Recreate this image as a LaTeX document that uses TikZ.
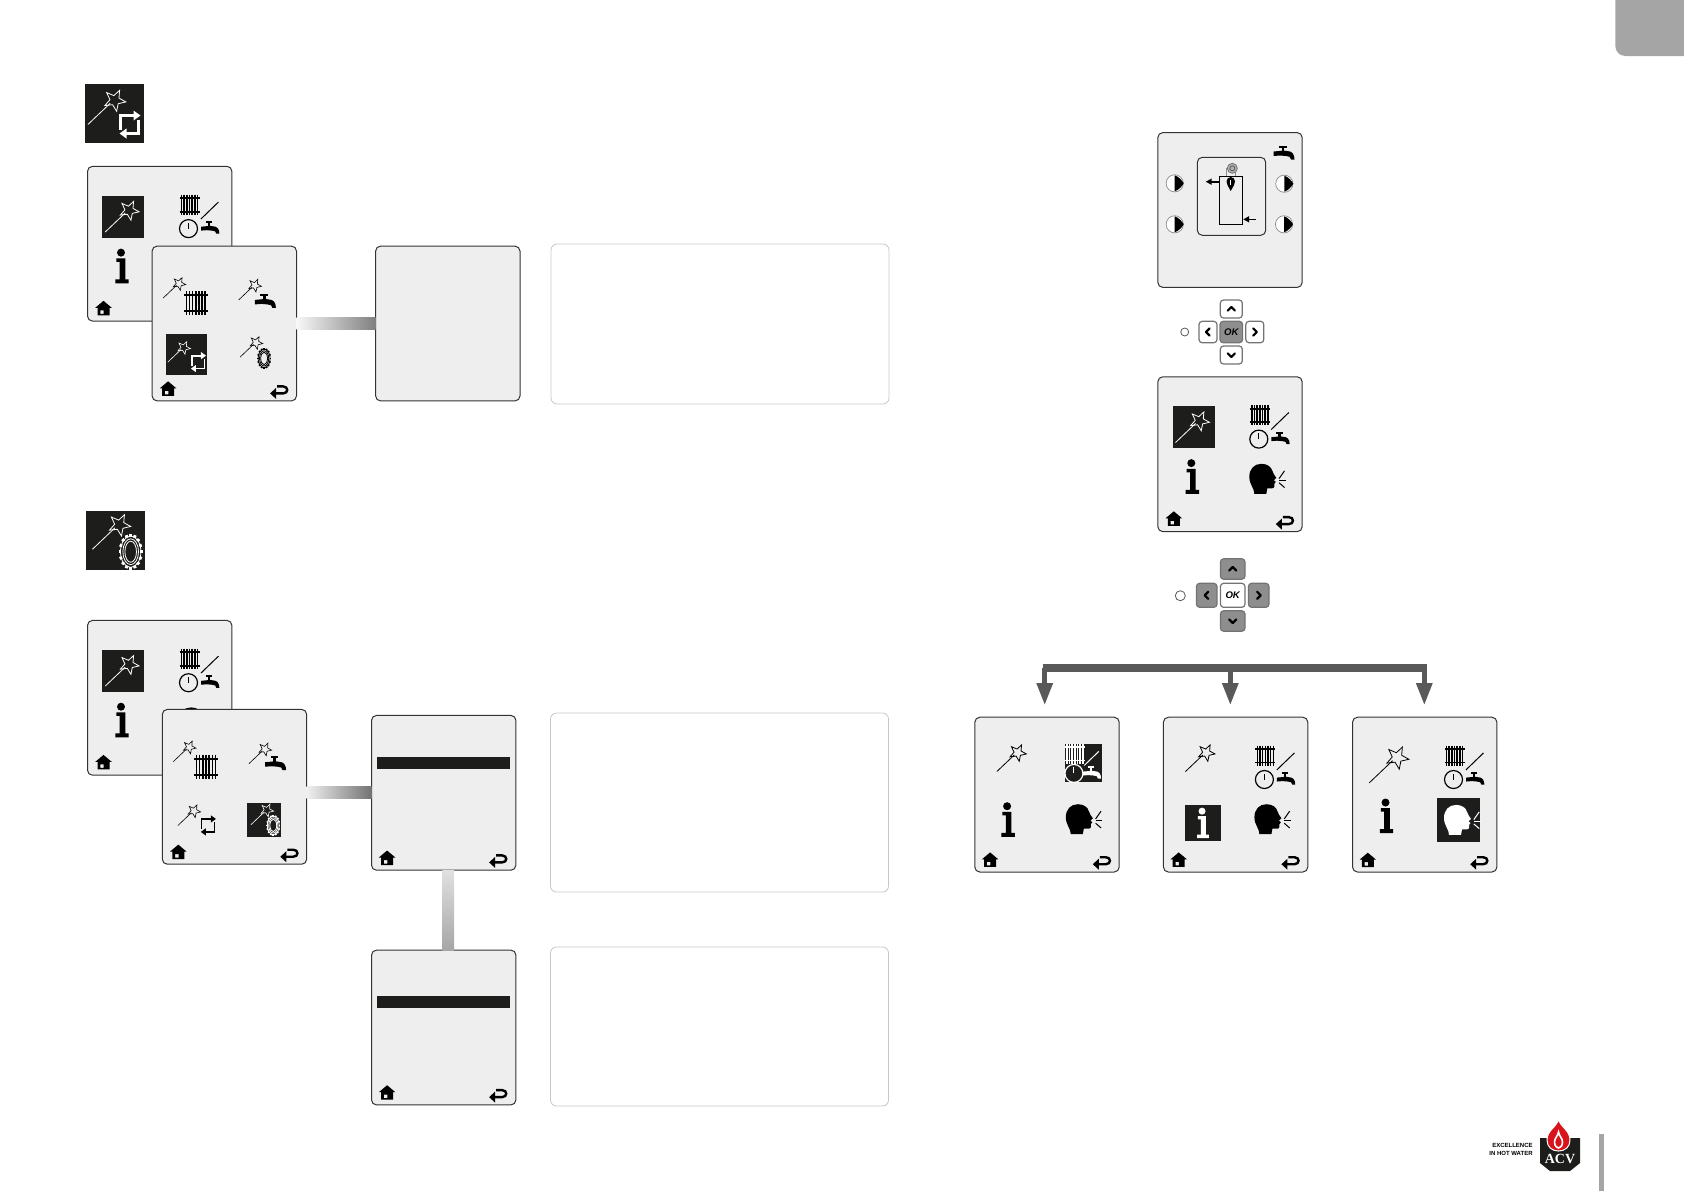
\documentclass[tikz,border=0pt]{standalone}
\usepackage{fontspec}
\setmainfont{Liberation Sans}
\newfontfamily\logoserif{Liberation Serif}
\usetikzlibrary{shapes,arrows.meta,positioning}
\definecolor{inkdark}{HTML}{1D1D1B}
\definecolor{panelgrey}{HTML}{EEEEEE}
\definecolor{tabgrey}{HTML}{A5A5A5}
\definecolor{busgrey}{HTML}{595959}
\definecolor{keygrey}{HTML}{8E8E8E}
\definecolor{acvred}{HTML}{D8131B}
\tikzset{
  panel/.style={draw=black!80,fill=panelgrey,line width=.5pt,rounded corners=2.5pt,inner sep=0pt,outer sep=0pt,minimum width=72.2pt,minimum height=77.4pt},
  notebox/.style={draw=black!22,fill=white,line width=.4pt,rounded corners=3pt,inner sep=0pt,outer sep=0pt,minimum width=169pt},
  selbar/.style={fill=inkdark,inner sep=0pt,minimum width=66.5pt,minimum height=5.9pt},
  keybtn/.style={draw=black!55,fill=white,line width=.6pt,rounded corners=1.6pt,inner sep=0pt,outer sep=0pt,font=\fontsize{4.8pt}{5pt}\selectfont\bfseries\itshape},
  keyon/.style={keybtn,fill=keygrey},
  led/.style={draw=black!65,fill=white,circle,line width=.4pt,inner sep=0pt},
  busmain/.style={draw=busgrey,line width=4pt},
  busdrop/.style={draw=busgrey,line width=2.4pt,shorten >=6pt,-{Triangle[length=11pt,width=7.6pt]}},
  pipe/.style={draw=black,line width=.8pt,-{Triangle[length=3pt,width=3pt]}},
  pics/tile/.style={code={\fill[inkdark] (-#1,-#1) rectangle (#1,#1);}},
  pics/wandic/.style={code={
    \draw (-18,15.3) -- (2,-3.7);
    \draw[shift={(6,-6.3)},rotate=10] (90:10) -- (126:4.3) -- (162:10) -- (198:4.3) -- (234:10) -- (270:4.3) -- (306:10) -- (342:4.3) -- (18:10) -- (54:4.3) -- cycle;
  }},
  pics/radic/.style={code={
    \foreach \x in {-8,-5.3,-2.7,0,2.7,5.3,8}
      \draw[line width=.75pt] (\x,-10) -- (\x,10);
    \draw[line width=.9pt] (-10,-6.5) -- (10,-6.5);
    \draw[line width=.9pt] (-10,7) -- (10,7);
  }},
  pics/tapic/.style={code={
    \fill (-10.5,-1.5) -- (0,-2.5) -- (3,-2) .. controls (8,-2) and (10.5,1) .. (10.5,6.5) -- (7,6.5) .. controls (7,4) and (5,3) .. (2,3) -- (-4,2.5) -- (-10.5,3) -- cycle;
    \draw[line width=1.3pt] (-1.2,-6) -- (-1.2,0);
    \draw[line width=1pt] (-5,-6.5) -- (2.5,-6.5);
  }},
  pics/clockic/.style={code={
    \draw[line width=.6pt] (0,0) circle (9);
    \draw[line width=.5pt] (0,0) -- (0,-6);
  }},
  pics/comboic/.style={code={
    \pic at (-9.7,-11.7) {radic};
    \draw[line width=.5pt] (1.7,2.7) -- (19.3,-14.3);
    \pic at (-10.7,12.3) {clockic};
    \pic[scale=.87] at (11,11.7) {tapic};
  }},
  pics/swapic/.style={code={
    \draw (-9,5) -- (-9,-9) -- (5,-9);
    \fill (11,-9) -- (4,-14) -- (4,-4) -- cycle;
    \draw (9,-5) -- (9,9) -- (-4,9);
    \fill (-10,9) -- (-3,4) -- (-3,14) -- cycle;
  }},
  pics/gearic/.default=.9pt,
  pics/gearic/.style={code={
    \foreach \a in {0,22.5,...,337.5}
      \draw[line width=#1] (\a:5.5 and 8.8) -- (\a:7 and 10.5);
    \draw[line width=.4pt] (0,0) ellipse (6 and 9.2);
    \draw[line width=.4pt] (0,0) ellipse (4.6 and 7.6);
    \draw[line width=.4pt] (0,0) ellipse (3.4 and 6.2);
  }},
  pics/infoic/.style={code={
    \fill (-1,-13.7) circle (4);
    \fill (-5.7,-8) -- (3.3,-8) -- (3.3,13) -- (6.7,13) -- (6.7,17) -- (-6.7,17) -- (-6.7,13) -- (-2.3,13) -- (-2.3,-4.5) -- (-5.7,-4.5) -- cycle;
  }},
  pics/headic/.style={code={
    \fill (-12,15) .. controls (-12,9) and (-17,6) .. (-17,-2) .. controls (-17,-10) and (-12,-15) .. (-5,-15) .. controls (1,-15) and (5,-12) .. (6,-8) .. controls (6.5,-5) and (9,-3) .. (10,-1) -- (7.5,1.5) -- (9.5,3) -- (8,5) -- (8,8) .. controls (7.5,10) and (4,9.5) .. (1,9.5) -- (0,15) -- cycle;
    \draw[line width=.5pt] (12.8,-.3) -- (18.2,-8);
    \draw[line width=.5pt] (12.8,1.5) -- (19.5,1.5);
    \draw[line width=.5pt] (12.8,4) -- (18.2,8.7);
  }},
  pics/homeic/.style={code={
    \fill[even odd rule] (-8.3,-.5) -- (0,-7.5) -- (8.3,-.5) -- (6,-.5) -- (6,7) -- (-6,7) -- (-6,-.5) -- cycle (-3.2,2) rectangle (.2,5.5);
  }},
  pics/backic/.style={code={
    \draw[line width=1.2pt] (-2,-5) -- (4,-5) .. controls (9.5,-5) and (9.5,2) .. (4,2) -- (-4,2);
    \fill (-9,2) -- (-3,-3.5) -- (-3,7.5) -- cycle;
  }},
  pics/pumpic/.style={code={
    \draw[black!45,fill=white,line width=.35pt] (0,0) circle (8.6);
    \fill (0,-8) .. controls (4,-7) and (8,-2) .. (9,0) .. controls (8,2) and (4,7) .. (0,8) -- cycle;
  }},
  pics/chev/.style={code={
    \draw[line width=1.1pt,line cap=round,line join=round] (-3.6,1.6) -- (0,-2) -- (3.6,1.6);
  }},
  pics/mainmenu/.style={code={
    \pic at (35.7,50.3) {tile=21};
    \pic[color=white] at (35.7,50.4) {wandic};
    \pic at (111.7,50) {comboic};
    \pic at (34.5,100) {infoic};
    \pic at (108.5,102) {headic};
    \pic at (16,142) {homeic};
    \pic at (127,145.3) {backic};
  }}
}
\begin{document}
\begin{tikzpicture}[x=.5pt,y=-.5pt]
\useasboundingbox (0,0) rectangle (1684,1191);
% corner tab and page mark
\fill[tabgrey,rounded corners=5pt] (1730,-30) -- (1615.3,-30) -- (1615.3,56) -- (1730,56) -- cycle;
\fill[tabgrey] (1599,1134) rectangle (1604,1191);

% first block
\pic at (114.5,113.5) {tile=29.5};
\pic[color=white,scale=1.12] at (108,107.4) {wandic};
\pic[color=white,line width=1.3pt] at (129.5,124.5) {swapic};

\node[panel] (a1) at (159.7,243.7) {};
\pic at (a1.north west) {mainmenu};
\node[panel] (a2) at (224.3,323.5) {};
\node[panel] (a3) at (447.8,323.5) {};
\node[notebox,minimum height=80pt] (n1) at (720,324) {};
\shade[left color=black!3,right color=black!50] ([yshift=3pt]a2.east) rectangle ([yshift=-3pt]a3.west);
\begin{scope}[shift={(a2.north west)}]
\pic[scale=.67,line width=.3pt] at (23,41.8) {wandic};
\pic[scale=1.18] at (43.7,56.7) {radic};
\pic[scale=.67,line width=.3pt] at (98.7,43.5) {wandic};
\pic at (113.3,55.3) {tapic};
\pic at (34.7,108.7) {tile=20.5};
\pic[color=white,scale=.67,line width=.3pt] at (27.7,105.8) {wandic};
\pic[color=white,scale=.72,line width=.9pt] at (46,116) {swapic};
\pic[scale=.67,line width=.3pt] at (100,100.8) {wandic};
\pic at (112,112.3) {gearic};
\pic at (16,142.7) {homeic};
\pic at (127,145.3) {backic};
\end{scope}

% second block
\pic at (115,540.5) {tile=29.5};
\pic[color=white,scale=1.13] at (112.7,532) {wandic};
\pic[color=white,scale=1.7] at (130.7,551.7) {gearic=1.5pt};

\node[panel] (b1) at (159.7,697.8) {};
\pic at (b1.north west) {mainmenu};
\node[panel] (b2) at (234.5,786.8) {};
\node[panel] (b3) at (443.7,792.8) {};
\node[panel] (b4) at (443.7,1027.5) {};
\node[notebox,minimum height=89.5pt] (n2) at (719.5,802.5) {};
\node[notebox,minimum height=79.5pt] (n3) at (719.5,1026.5) {};
\coordinate (b2r) at (b2.east|-b3.west);
\shade[left color=black!6,right color=black!55] ([yshift=3pt]b2r) rectangle ([yshift=-3pt]b3.west);
\shade[top color=black!12,bottom color=black!35] ([xshift=-.7pt]b3.south) rectangle ([xshift=5.2pt]b4.north);
\begin{scope}[shift={(b2.north west)}]
\pic[scale=.67,line width=.3pt] at (23,42) {wandic};
\pic[scale=1.18] at (43.7,57.3) {radic};
\pic[scale=.67,line width=.3pt] at (98.7,44) {wandic};
\pic at (113.3,54.3) {tapic};
\pic[scale=.67,line width=.3pt] at (27.7,105.8) {wandic};
\pic[scale=.72,line width=.9pt] at (45.7,116) {swapic};
\pic at (101.7,110.3) {tile=17};
\pic[color=white,scale=.67,line width=.3pt] at (100.7,105) {wandic};
\pic[color=white] at (111,116) {gearic};
\pic at (16,142.7) {homeic};
\pic at (127,145.3) {backic};
\end{scope}
\node[selbar] (b3bar) at (443.5,762.8) {};
\pic at ([shift={(15.6,142.6)}]b3.north west) {homeic};
\pic at ([shift={(126.6,145)}]b3.north west) {backic};
\node[selbar] (b4bar) at (443.5,1002) {};
\pic at ([shift={(15.6,142.6)}]b4.north west) {homeic};
\pic at ([shift={(126.6,145)}]b4.north west) {backic};

% boiler screen
\node[panel] (c1) at (1230,210) {};
\node[panel,minimum width=34.2pt,minimum height=39pt] (c1in) at (1231.5,196.3) {};
\node[draw=black,line width=.5pt,inner sep=0pt,minimum width=11.7pt,minimum height=24.2pt] (tank) at (1231,200.5) {};
\draw[black!45,line width=.3pt] (1226.3,176.3) -- (1226.3,168.3) -- (1235,168.3) -- (1235,176.3);
\draw[black!55,fill=black!30,line width=.4pt] (1232.3,168.3) circle (5);
\draw[black!65,line width=.4pt] (1232.3,168.3) circle (2.5);
\fill (1230.7,191) .. controls (1228,186) and (1226.5,184) .. (1226.5,181.5) .. controls (1226.5,179) and (1228.5,177) .. (1230.7,177) .. controls (1233,177) and (1235,179) .. (1235,181.5) .. controls (1235,184) and (1233.4,186) .. (1230.7,191) -- cycle;
\draw[white,line width=.35pt] (1230.7,180) -- (1230.7,185);
\coordinate (hotout) at (1205.7,181.7);
\coordinate (coldin) at (1256,219.3);
\draw[pipe] (hotout-|tank.west) -- (hotout);
\draw[pipe] (coldin) -- (coldin-|tank.east);
\pic at (1174.7,183.3) {pumpic};
\pic at (1174.7,224.3) {pumpic};
\pic at (1284.3,183.7) {pumpic};
\pic at (1284,224.3) {pumpic};
\pic at (1284,153) {tapic};

% first keypad
\node[keyon,minimum width=11.3pt,minimum height=10.7pt] (ok1) at (1231.3,332) {OK};
\node[keybtn,minimum width=11pt,minimum height=9pt] (up1) at (1231.3,309) {};
\node[keybtn,minimum width=11pt,minimum height=9pt] (dn1) at (1231.3,355) {};
\node[keybtn,minimum width=9pt,minimum height=10.7pt] (lf1) at (1208,332) {};
\node[keybtn,minimum width=9pt,minimum height=10.7pt] (rt1) at (1254.8,332) {};
\node[led,minimum size=4pt] (led1) at (1184.7,332) {};
\pic at (up1) {chev};
\pic[rotate=180] at (dn1) {chev};
\pic[rotate=90] at (lf1) {chev};
\pic[rotate=-90] at (rt1) {chev};

\node[panel] (c2) at (1230,454.2) {};
\pic at (c2.north west) {mainmenu};

% second keypad
\node[keybtn,minimum width=12.3pt,minimum height=12pt] (ok2) at (1232.7,595.3) {OK};
\node[keyon,minimum width=12.3pt,minimum height=10.2pt] (up2) at (1232.7,569) {};
\node[keyon,minimum width=12.3pt,minimum height=10.2pt] (dn2) at (1232.7,621) {};
\node[keyon,minimum width=10.3pt,minimum height=12pt] (lf2) at (1206.7,595.3) {};
\node[keyon,minimum width=10.3pt,minimum height=12pt] (rt2) at (1258.7,595.3) {};
\node[led,minimum size=5pt] (led2) at (1180.3,595.7) {};
\pic at (up2) {chev};
\pic[rotate=180] at (dn2) {chev};
\pic[rotate=90] at (lf2) {chev};
\pic[rotate=-90] at (rt2) {chev};

% three choices
\node[panel] (d1) at (1047,794.6) {};
\node[panel] (d2) at (1235.6,794.6) {};
\node[panel] (d3) at (1424.7,794.6) {};
\coordinate (busl) at (1044.7,668);
\coordinate (busm) at (1230.3,668);
\coordinate (busr) at (1424.3,668);
\draw[busdrop] (busl) -- (busl|-d1.north);
\draw[busdrop] (busm) -- (busm|-d2.north);
\draw[busdrop] (busr) -- (busr|-d3.north);
\draw[busmain] ([xshift=-1.1pt]busl) -- ([xshift=1.4pt]busr);

\begin{scope}[shift={(d1.north west)}]
\pic[scale=.87] at (37.7,41) {wandic};
\pic at (109,45.7) {tile=18.6};
\pic[color=white,scale=.83] at (108,46) {comboic};
\pic at (33.3,102.7) {infoic};
\pic at (108,102) {headic};
\pic at (15.3,142.7) {homeic};
\pic at (127,145) {backic};
\end{scope}
\begin{scope}[shift={(d2.north west)}]
\pic[scale=.87] at (37.7,41) {wandic};
\pic at (111.7,50) {comboic};
\pic at (39.7,105.7) {tile=18};
\pic[color=white,scale=.88] at (39.5,106) {infoic};
\pic at (108,102) {headic};
\pic at (15.3,142.7) {homeic};
\pic at (127,145) {backic};
\end{scope}
\begin{scope}[shift={(d3.north west)}]
\pic[scale=1.17] at (37.7,47.8) {wandic};
\pic at (111.7,50) {comboic};
\pic at (34,99) {infoic};
\pic at (105.8,102.5) {tile=21.8};
\pic[color=white] at (108.5,102.7) {headic};
\pic at (15.3,143) {homeic};
\pic at (126.7,145) {backic};
\end{scope}

% logo
\node[anchor=east,align=right,inner sep=0pt,font=\fontsize{3pt}{4pt}\selectfont\bfseries] (tagline) at (1533,1149) {EXCELLENCE\\IN HOT WATER};
\fill[inkdark] (1540,1138) -- (1580,1138) -- (1580,1163) -- (1570,1171) -- (1550,1171) -- (1540,1163) -- cycle;
\draw[white,fill=acvred,line width=.5pt] (1558.5,1119) .. controls (1560,1127) and (1570,1130) .. (1570,1140) .. controls (1570,1147) and (1565,1151) .. (1558.5,1151) .. controls (1552,1151) and (1547,1147) .. (1547,1140) .. controls (1547,1130) and (1557,1127) .. (1558.5,1119) -- cycle;
\draw[white,fill=acvred,line width=.8pt] (1558.5,1132) .. controls (1559,1136) and (1562.5,1138) .. (1562.5,1142) .. controls (1562.5,1146) and (1560,1148) .. (1558.5,1148) .. controls (1557,1148) and (1554.5,1146) .. (1554.5,1142) .. controls (1554.5,1138) and (1558,1136) .. (1558.5,1132) -- cycle;
\node[text=white,inner sep=0pt,font=\logoserif\fontsize{7pt}{7pt}\selectfont\bfseries] (acv) at (1560,1158.5) {ACV};
\end{tikzpicture}
\end{document}
